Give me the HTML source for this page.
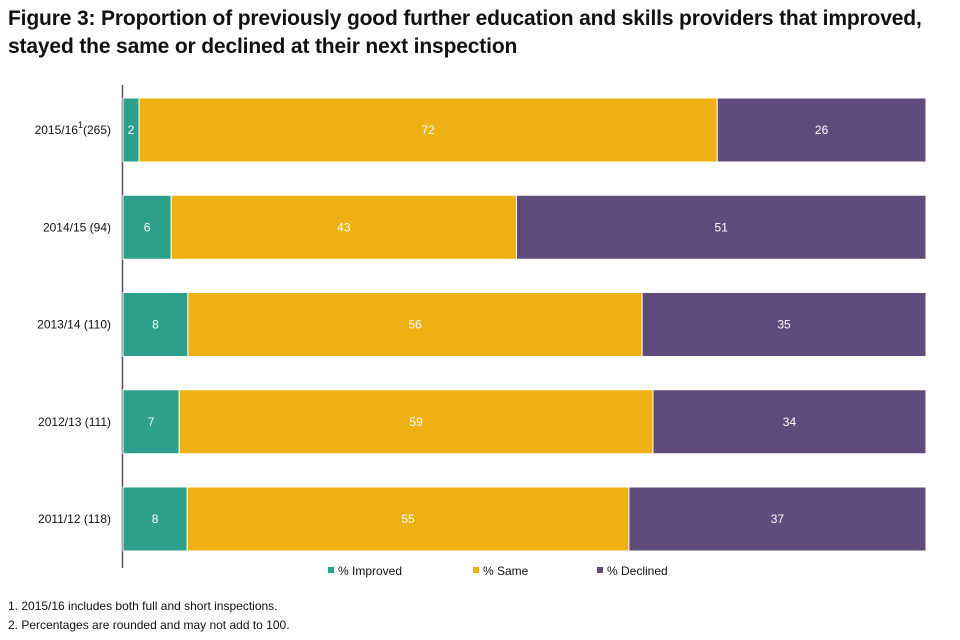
<!DOCTYPE html>
<html><head><meta charset="utf-8"><style>
body{margin:0;background:#fff;font-family:"Liberation Sans",sans-serif;}
#wrap{position:relative;width:960px;height:640px;overflow:hidden}
.title{position:absolute;left:8px;top:5px;font-size:21px;font-weight:bold;color:#111;line-height:28px;letter-spacing:-0.15px}
.note{position:absolute;left:8px;font-size:12px;color:#111}
</style></head><body>
<div id="wrap">
<div class="title">Figure 3: Proportion of previously good further education and skills providers that improved,<br>stayed the same or declined at their next inspection</div>
<svg id="chart" width="960" height="640" style="position:absolute;left:0;top:0"></svg>
<div class="note" style="top:599px">1. 2015/16 includes both full and short inspections.</div>
<div class="note" style="top:618px">2. Percentages are rounded and may not add to 100.</div>
</div>
<script>
const categories=["2015/16","2014/15","2013/14","2012/13","2011/12"];
const counts=["265","94","110","111","118"];
const improved=[2,6,8,7,8];
const same=[72,43,56,59,55];
const declined=[26,51,35,34,37];
const seriesNames=["% Improved","% Same","% Declined"];
const colors=["#2e9f8a","#eeb012","#5f4b7b"];
const svg=document.getElementById('chart');
const NS="http://www.w3.org/2000/svg";
const x0=123,x1=926,top0=98,step=97.25,bh=64;
function mk(t,a){const e=document.createElementNS(NS,t);for(const k in a)e.setAttribute(k,a[k]);svg.appendChild(e);return e;}
const ax=mk('line',{x1:122.5,y1:85,x2:122.5,y2:568,stroke:'#555','stroke-width':1.5});


const series=[improved,same,declined];
categories.forEach((c,i)=>{
  const y=top0+i*step;
  const total=improved[i]+same[i]+declined[i];
  const xs=v=>v/total*(x1-x0);
  let cx=x0;
  series.forEach((s,j)=>{
    const w=xs(s[i]);
    const r=mk('rect',{x:cx,y:y,width:w,height:bh,fill:colors[j],stroke:'#fff','stroke-width':1});
    
    
    const t=mk('text',{x:cx+w/2,y:y+bh/2+4,'text-anchor':'middle','font-size':12,fill:'#fff'});
    t.textContent=s[i];
    
    
    cx+=w;
  });
  const lb=mk('text',{x:111,y:y+bh/2+4,'text-anchor':'end','font-size':12,fill:'#111'});
  
  
  if(i===0){lb.innerHTML=c+'<tspan dy="-6" font-size="9">1</tspan><tspan dy="6">('+counts[i]+')</tspan>';}
  else lb.textContent=c+' ('+counts[i]+')';
});
const lx=[328,473,597];
seriesNames.forEach((n,j)=>{
  const r=mk('rect',{x:lx[j],y:567,width:6,height:6,fill:colors[j]});
  
  
  const t=mk('text',{x:lx[j]+10,y:575,'font-size':12,fill:'#111'});
  t.textContent=n;
  
  
});
</script>
</body></html>
